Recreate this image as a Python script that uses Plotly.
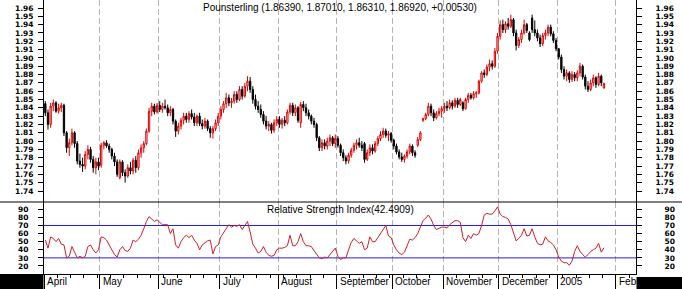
import plotly.graph_objects as go

# ---------------- data ----------------
opens = [
    1.845,1.834,1.820,1.842,1.846,1.836,1.840,1.843,1.810,1.792,1.798,1.810,1.797,1.776,1.772,1.770,1.784,1.790,1.778,1.768,1.775,
    1.771,1.795,1.798,1.794,1.790,1.782,1.775,1.756,1.775,1.762,1.758,1.768,1.764,1.777,1.768,1.786,1.792,1.797,1.812,1.836,1.842,1.835,
    1.843,1.838,1.842,1.840,1.834,1.838,1.824,1.812,1.818,1.825,1.830,1.826,1.833,1.829,1.822,1.830,1.821,1.818,1.824,1.815,1.810,1.815,1.822,
    1.830,1.838,1.845,1.852,1.846,1.848,1.856,1.850,1.862,1.854,1.866,1.872,1.862,1.850,1.842,1.838,1.832,1.824,1.818,1.820,1.813,1.822,
    1.826,1.820,1.825,1.822,1.835,1.843,1.834,1.840,1.822,1.844,1.840,1.834,1.830,1.824,1.820,1.804,1.792,1.798,1.794,1.800,1.804,1.797,
    1.803,1.795,1.786,1.780,1.776,1.783,1.789,1.795,1.798,1.795,1.797,1.778,1.786,1.792,1.788,1.797,1.803,1.808,1.812,1.807,1.809,
    1.801,1.794,1.787,1.781,1.778,1.782,1.787,1.794,1.786,1.795,1.802,1.825,1.827,1.832,1.842,1.834,1.828,1.833,1.836,
    1.839,1.842,1.840,1.846,1.842,1.849,1.844,1.846,1.839,1.850,1.855,1.852,1.857,1.858,1.872,1.882,1.880,1.889,1.893,1.890,1.908,
    1.926,1.940,1.934,1.941,1.938,1.946,1.930,1.915,1.922,1.930,1.940,1.930,1.948,1.934,1.930,1.924,1.917,1.927,1.930,1.937,1.929,1.921,
    1.911,1.901,1.886,1.878,1.882,1.874,1.880,1.876,1.882,1.890,1.877,1.866,1.862,1.870,1.876,1.868,1.878,1.8639,
]
highs = [
    1.848,1.838,1.846,1.850,1.848,1.845,1.846,1.845,1.812,1.803,1.815,1.812,1.800,1.785,1.780,1.788,1.795,1.793,1.782,1.780,1.780,
    1.798,1.800,1.801,1.797,1.792,1.786,1.778,1.778,1.777,1.766,1.772,1.775,1.780,1.782,1.790,1.796,1.800,1.815,1.840,1.846,1.845,1.846,
    1.848,1.846,1.850,1.844,1.842,1.840,1.826,1.822,1.828,1.834,1.834,1.836,1.838,1.834,1.832,1.834,1.826,1.828,1.826,1.818,1.818,1.826,1.834,
    1.842,1.848,1.858,1.856,1.852,1.860,1.860,1.866,1.866,1.870,1.878,1.877,1.866,1.856,1.848,1.844,1.836,1.830,1.824,1.822,1.826,1.830,
    1.830,1.828,1.830,1.838,1.846,1.846,1.844,1.842,1.847,1.848,1.845,1.838,1.832,1.828,1.822,1.806,1.802,1.802,1.804,1.808,1.806,1.808,
    1.806,1.797,1.790,1.783,1.786,1.792,1.798,1.802,1.804,1.800,1.799,1.790,1.796,1.796,1.800,1.806,1.812,1.816,1.815,1.812,1.811,
    1.803,1.797,1.790,1.786,1.784,1.790,1.797,1.796,1.789,1.805,1.812,1.828,1.834,1.846,1.845,1.838,1.836,1.840,1.842,
    1.846,1.848,1.850,1.849,1.852,1.852,1.852,1.848,1.852,1.858,1.858,1.860,1.860,1.874,1.884,1.886,1.892,1.898,1.897,1.912,1.930,
    1.945,1.946,1.944,1.948,1.952,1.948,1.934,1.925,1.934,1.946,1.942,1.932,1.952,1.945,1.934,1.928,1.930,1.934,1.940,1.940,1.932,1.924,
    1.912,1.904,1.890,1.886,1.884,1.884,1.883,1.885,1.894,1.892,1.880,1.872,1.874,1.880,1.878,1.882,1.880,1.8701,
]
lows = [
    1.830,1.814,1.816,1.836,1.834,1.833,1.835,1.806,1.786,1.782,1.795,1.792,1.772,1.768,1.763,1.766,1.778,1.774,1.762,1.760,1.765,
    1.768,1.790,1.792,1.786,1.778,1.770,1.757,1.754,1.758,1.750,1.756,1.760,1.760,1.762,1.765,1.780,1.786,1.795,1.810,1.830,1.832,1.833,
    1.835,1.834,1.838,1.830,1.830,1.820,1.805,1.808,1.814,1.820,1.822,1.822,1.826,1.818,1.818,1.818,1.814,1.815,1.812,1.804,1.803,1.812,1.818,
    1.826,1.834,1.840,1.842,1.840,1.845,1.846,1.848,1.850,1.852,1.860,1.858,1.845,1.838,1.834,1.828,1.820,1.814,1.812,1.809,1.810,1.818,
    1.816,1.815,1.818,1.820,1.832,1.830,1.830,1.822,1.816,1.836,1.830,1.826,1.820,1.816,1.800,1.788,1.788,1.790,1.790,1.794,1.794,1.792,
    1.792,1.782,1.776,1.772,1.773,1.780,1.786,1.790,1.792,1.788,1.774,1.776,1.782,1.784,1.786,1.794,1.800,1.804,1.804,1.800,1.798,
    1.790,1.784,1.778,1.775,1.774,1.779,1.784,1.782,1.780,1.793,1.800,1.823,1.825,1.830,1.830,1.824,1.826,1.830,1.828,
    1.834,1.836,1.838,1.838,1.840,1.840,1.842,1.836,1.838,1.846,1.850,1.850,1.852,1.856,1.870,1.876,1.878,1.884,1.886,1.888,1.905,
    1.922,1.930,1.930,1.934,1.936,1.926,1.909,1.912,1.918,1.928,1.930,1.920,1.930,1.926,1.920,1.913,1.914,1.922,1.926,1.926,1.918,1.908,
    1.898,1.882,1.874,1.872,1.870,1.871,1.872,1.872,1.878,1.874,1.862,1.859,1.860,1.866,1.864,1.866,1.866,1.8631,
]
closes = [
    1.834,1.820,1.842,1.846,1.836,1.840,1.843,1.810,1.792,1.798,1.810,1.797,1.776,1.772,1.770,1.784,1.790,1.778,1.768,1.775,1.770,
    1.795,1.798,1.794,1.790,1.782,1.775,1.760,1.775,1.762,1.758,1.768,1.764,1.777,1.768,1.786,1.792,1.797,1.812,1.836,1.842,1.835,1.843,
    1.838,1.842,1.840,1.834,1.838,1.824,1.812,1.818,1.825,1.830,1.826,1.833,1.829,1.822,1.830,1.821,1.818,1.824,1.815,1.810,1.815,1.822,1.830,
    1.838,1.845,1.852,1.846,1.848,1.856,1.850,1.862,1.854,1.866,1.872,1.862,1.850,1.842,1.838,1.832,1.824,1.818,1.820,1.813,1.822,1.826,
    1.820,1.825,1.822,1.835,1.843,1.834,1.840,1.825,1.844,1.840,1.834,1.830,1.824,1.820,1.804,1.792,1.798,1.794,1.800,1.804,1.797,1.803,
    1.795,1.786,1.780,1.776,1.783,1.789,1.795,1.798,1.795,1.792,1.778,1.786,1.792,1.788,1.797,1.803,1.808,1.812,1.807,1.809,1.801,
    1.794,1.787,1.781,1.778,1.782,1.787,1.794,1.786,1.783,1.802,1.810,1.827,1.832,1.842,1.834,1.828,1.833,1.836,1.839,
    1.842,1.840,1.846,1.842,1.849,1.844,1.850,1.839,1.850,1.855,1.852,1.857,1.858,1.872,1.882,1.880,1.889,1.893,1.890,1.908,1.926,
    1.940,1.934,1.941,1.938,1.946,1.930,1.915,1.922,1.930,1.940,1.933,1.922,1.934,1.930,1.924,1.917,1.927,1.930,1.937,1.929,1.921,1.911,
    1.901,1.886,1.878,1.882,1.874,1.880,1.876,1.882,1.890,1.877,1.866,1.862,1.870,1.876,1.868,1.878,1.870,1.8692,
]
rsi = [
    52,42,56,54,50,54,47,46,30,32,44,36,30,32,30,32,44,46,40,36,40,
    56,55,52,46,40,34,31,40,44,39,38,42,52,50,53,58,66,75,81,78,75,77,
    74,71,71,71,60,66,46,42,50,55,58,55,58,52,48,40,46,49,51,52,35,44,46,
    56,61,66,71,68,70,69,71,65,70,75,62,47,42,36,38,44,37,33,32,33,40,
    42,42,43,45,58,45,45,50,60,50,45,45,44,39,34,30,29,31,30,34,37,42,
    32,28,30,30,40,49,54,51,48,50,40,42,56,50,50,55,60,65,70,57,55,
    46,40,36,34,37,46,53,52,55,60,68,76,79,83,78,70,65,67,68,
    68,67,71,73,76,76,74,55,50,58,54,60,58,60,70,83,85,84,84,88,93,
    84,81,80,78,71,60,51,54,58,66,57,58,66,56,48,46,47,56,51,49,46,40,
    31,26,24,24,21,26,38,45,38,34,31,34,38,40,42,48,37,42.49,
]
month_labels = ["April", "May", "June", "July", "August", "September",
                "October", "November", "December", "2005", "Feb"]
month_start_idx = [0, 21, 43, 66, 88, 110, 131, 150, 171, 193, 215]
price_ticks = [1.74, 1.75, 1.76, 1.77, 1.78, 1.79, 1.80, 1.81, 1.82, 1.83, 1.84,
               1.85, 1.86, 1.87, 1.88, 1.89, 1.90, 1.91, 1.92, 1.93, 1.94, 1.95, 1.96]
rsi_ticks = [20, 30, 40, 50, 60, 70, 80, 90]
rsi_levels = [70, 30]
title_text = "Pounsterling (1.86390, 1.87010, 1.86310, 1.86920, +0.00530)"
rsi_text = "Relative Strength Index(42.4909)"

n = len(closes)
assert len(opens) == n and len(highs) == n and len(lows) == n and len(rsi) == n
idx = list(range(n))

# ---------------- geometry ----------------
W, H = 682, 289
ML, MR, MT, MB = 44, 46, 0, 15
PW, PH = W - ML - MR, H - MT - MB          # 592 x 274
SPLIT_PX = 202                              # separator between panels
split = (PH - SPLIT_PX) / PH


def px_x(p):
    return (p - ML) / PW


def px_y(p):
    return (PH - p) / PH


RED = "#e00000"
BLUE = "#2020e0"
TICKFONT = dict(family="DejaVu Sans", size=7.5, color="black", weight="bold")
TXTFONT = dict(family="Liberation Sans", size=10, color="black")

p_lo = 1.74 - 11 / 831.8
p_hi = 1.96 + 8 / 831.8
r_lo, r_hi = 10.1, 99.0
scale = 2.66
x_lo = -0.5
x_hi = x_lo + PW / scale

fig = go.Figure()
# RSI reference levels (drawn first, under the RSI line)
for lv in rsi_levels:
    fig.add_trace(go.Scatter(x=[x_lo, x_hi], y=[lv, lv], mode="lines",
                             xaxis="x", yaxis="y2", showlegend=False,
                             hoverinfo="skip", line=dict(color=BLUE, width=1)))
fig.add_trace(go.Candlestick(
    x=idx, open=opens, high=highs, low=lows, close=closes,
    xaxis="x", yaxis="y",
    increasing=dict(line=dict(color=RED, width=1), fillcolor="white"),
    decreasing=dict(line=dict(color="black", width=1), fillcolor="black"),
    whiskerwidth=0, showlegend=False, hoverinfo="skip"))
fig.add_trace(go.Scatter(
    x=idx, y=rsi, mode="lines", xaxis="x", yaxis="y2",
    line=dict(color="#d21e28", width=1), showlegend=False, hoverinfo="skip"))
# dummy traces so that the right-hand duplicate axes render
fig.add_trace(go.Scatter(x=[None], y=[None], xaxis="x", yaxis="y3", showlegend=False))
fig.add_trace(go.Scatter(x=[None], y=[None], xaxis="x", yaxis="y4", showlegend=False))

common_y = dict(showgrid=False, zeroline=False, showline=True, linecolor="black",
                linewidth=1, ticks="outside", ticklen=5, tickcolor="black",
                tickfont=TICKFONT)

fig.update_layout(
    width=W, height=H,
    margin=dict(l=ML, r=MR, t=MT, b=MB, pad=0),
    paper_bgcolor="white", plot_bgcolor="white",
    xaxis=dict(
        domain=[0, 1], anchor="y2", range=[x_lo, x_hi],
        tickvals=[m - 0.5 for m in month_start_idx],
        showticklabels=False, ticks="outside", ticklen=15, tickcolor="black",
        tickwidth=1, showline=True, linecolor="black", linewidth=1,
        showgrid=True, gridcolor="#b4b4b4", griddash="6px,3px", gridwidth=1,
        zeroline=False, rangeslider=dict(visible=False),
        minor=dict(ticks="outside", ticklen=3, dtick=5, tick0=-0.5,
                   tickcolor="black", showgrid=False),
    ),
    yaxis=dict(domain=[split, 1], anchor="x", range=[p_lo, p_hi], side="left",
               tickvals=price_ticks, ticktext=[f"{v:.2f}" for v in price_ticks],
               ticklabelstandoff=3, **common_y),
    yaxis3=dict(overlaying="y", anchor="x", range=[p_lo, p_hi], side="right",
                tickvals=price_ticks, ticktext=[f"{v:.2f}" for v in price_ticks],
                ticklabelstandoff=12, **common_y),
    yaxis2=dict(domain=[0, split], anchor="x", range=[r_lo, r_hi], side="left",
                tickvals=rsi_ticks, ticktext=[str(v) for v in rsi_ticks],
                ticklabelstandoff=8, **common_y),
    yaxis4=dict(overlaying="y2", anchor="x", range=[r_lo, r_hi], side="right",
                tickvals=rsi_ticks, ticktext=[str(v) for v in rsi_ticks],
                ticklabelstandoff=21, **common_y),
)

shapes = []
# panel separator across the full width
shapes.append(dict(type="line", xref="paper", yref="paper",
                   x0=px_x(0), x1=px_x(W), y0=split, y1=split,
                   line=dict(color="black", width=1)))
# black boxes in the bottom strip
shapes.append(dict(type="rect", xref="paper", yref="paper",
                   x0=px_x(0), x1=px_x(43.5), y0=px_y(274), y1=px_y(H),
                   fillcolor="black", line=dict(width=0)))
shapes.append(dict(type="rect", xref="paper", yref="paper",
                   x0=px_x(636.5), x1=px_x(W), y0=px_y(277), y1=px_y(H),
                   fillcolor="black", line=dict(width=0)))

annotations = [
    dict(text=title_text, xref="paper", yref="paper", x=0.5, y=px_y(7),
         xanchor="center", yanchor="middle", showarrow=False, font=TXTFONT),
    dict(text=rsi_text, xref="paper", yref="paper", x=0.5, y=px_y(209),
         xanchor="center", yanchor="middle", showarrow=False, font=TXTFONT),
]
for lab, m in zip(month_labels, month_start_idx):
    annotations.append(dict(text=lab, xref="x", yref="paper", x=m - 0.5,
                            y=px_y(281.5), xanchor="left", yanchor="middle",
                            xshift=1, showarrow=False, font=TXTFONT))

fig.update_layout(shapes=shapes, annotations=annotations)
fig.write_html("out.html")
